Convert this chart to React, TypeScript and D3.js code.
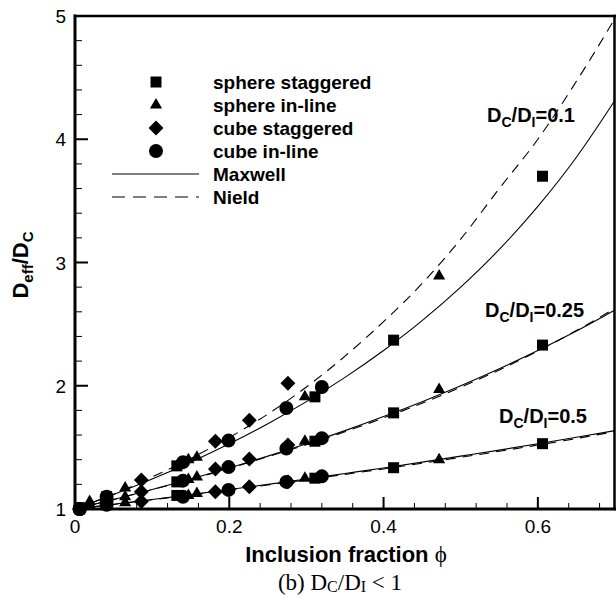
import React from 'react';
import * as d3 from 'd3';

// ---- data ----
const xMajorTicks = [0, 0.2, 0.4, 0.6];
const xTickLabels = ['0', '0.2', '0.4', '0.6'];
const yMajorTicks = [1, 2, 3, 4, 5];
const yTickLabels = ['1', '2', '3', '4', '5'];

const phiGrid = [0, 0.05, 0.1, 0.15, 0.2, 0.25, 0.3, 0.35, 0.4, 0.45, 0.5, 0.55, 0.6, 0.65, 0.7];
// Maxwell (solid) and Nield (dashed) curves for Dc/Di = 0.1, 0.25, 0.5
const maxwell01 = [1, 1.117, 1.243, 1.38, 1.529, 1.692, 1.871, 2.068, 2.286, 2.528, 2.8, 3.106, 3.455, 3.854, 4.316];
const nield01 = [1, 1.12, 1.26, 1.41, 1.58, 1.77, 1.99, 2.24, 2.52, 2.83, 3.19, 3.6, 4.0, 4.47, 4.98];
const maxwell025 = [1, 1.077, 1.158, 1.243, 1.333, 1.429, 1.529, 1.636, 1.75, 1.871, 2.0, 2.138, 2.286, 2.444, 2.615];
const nield025 = [1, 1.077, 1.157, 1.241, 1.33, 1.424, 1.522, 1.627, 1.739, 1.858, 1.988, 2.128, 2.282, 2.448, 2.628];
const maxwell05 = [1, 1.038, 1.077, 1.117, 1.158, 1.2, 1.243, 1.288, 1.333, 1.38, 1.429, 1.478, 1.529, 1.582, 1.636];
const nield05 = [1, 1.037, 1.075, 1.114, 1.154, 1.195, 1.237, 1.281, 1.325, 1.371, 1.419, 1.468, 1.519, 1.572, 1.628];

// markers: [phi, Deff/Dc]
const sphereStaggered: [number, number][] = [
  [0.006, 1.01], [0.041, 1.1], [0.132, 1.35], [0.311, 1.91], [0.413, 2.37], [0.606, 3.7],
  [0.006, 1.005], [0.041, 1.07], [0.132, 1.22], [0.311, 1.55], [0.413, 1.78], [0.606, 2.33],
  [0.006, 1.0], [0.041, 1.035], [0.132, 1.11], [0.311, 1.25], [0.413, 1.335], [0.606, 1.53],
];
const sphereInline: [number, number][] = [
  [0.019, 1.06], [0.065, 1.17], [0.147, 1.4], [0.158, 1.42], [0.298, 1.91], [0.472, 2.89],
  [0.019, 1.04], [0.065, 1.1], [0.147, 1.24], [0.158, 1.26], [0.298, 1.55], [0.472, 1.97],
  [0.019, 1.02], [0.065, 1.05], [0.147, 1.11], [0.158, 1.125], [0.298, 1.25], [0.472, 1.4],
];
const cubeStaggered: [number, number][] = [
  [0.086, 1.235], [0.182, 1.55], [0.226, 1.72], [0.276, 2.02],
  [0.086, 1.14], [0.182, 1.325], [0.226, 1.405], [0.276, 1.52],
  [0.086, 1.06], [0.182, 1.14], [0.226, 1.18], [0.276, 1.22],
];
const cubeInline: [number, number][] = [
  [0.006, 1.0], [0.041, 1.1], [0.14, 1.38], [0.199, 1.555], [0.274, 1.82], [0.32, 1.99],
  [0.006, 1.0], [0.041, 1.07], [0.14, 1.23], [0.199, 1.34], [0.274, 1.49], [0.32, 1.575],
  [0.006, 1.0], [0.041, 1.035], [0.14, 1.1], [0.199, 1.155], [0.274, 1.22], [0.32, 1.265],
];

const legendLabels = ['sphere staggered', 'sphere in-line', 'cube staggered', 'cube in-line', 'Maxwell', 'Nield'];

const FONT = 'Liberation Sans, Arial, Helvetica, sans-serif';
const SERIF = 'Liberation Serif, Times New Roman, serif';

const L = 75, R = 615, T = 16, B = 509;

export default function App() {
  const x = d3.scaleLinear().domain([0, 0.7]).range([L, R]);
  const y = d3.scaleLinear().domain([1, 5]).range([B, T]);
  const line = d3.line<number>().x((_, i) => x(phiGrid[i])).y((d) => y(d)).curve(d3.curveMonotoneX);

  const sq = d3.symbol(d3.symbolSquare, 121)()!;
  const tri = d3.symbol(d3.symbolTriangle, 64)()!;
  const dia = d3.symbol(d3.symbolSquare, 112)()!;
  const circ = d3.symbol(d3.symbolCircle, 154)()!;

  const xMinor = d3.range(0, 0.7001, 0.04).filter((v) => !xMajorTicks.some((m) => Math.abs(m - v) < 1e-6));
  const yMinor = d3.range(1, 5.0001, 0.2).filter((v) => !yMajorTicks.some((m) => Math.abs(m - v) < 1e-6));

  const solid = [maxwell01, maxwell025, maxwell05];
  const dashed = [nield01, nield025, nield05];
  const dash = '10,7';

  const legendMarkers = [sq, tri, dia, circ];
  const legY = [82, 105, 128, 151, 174, 197];

  const ann = (xx: number, yy: number, v: string) => (
    <text x={xx} y={yy}>D<tspan dy={5} fontSize={14}>C</tspan><tspan dy={-5}>/D</tspan><tspan dy={5} fontSize={14}>I</tspan><tspan dy={-5}>={v}</tspan></text>
  );

  return (
    <svg width={616} height={598} style={{ position: 'absolute', left: 0, top: 0, background: '#fff' }} fontFamily={FONT}>
      <rect x={0} y={0} width={616} height={598} fill="#fff" />
      {/* curves */}
      <g fill="none" stroke="#000" strokeWidth={1.1}>
        {solid.map((s, i) => <path key={'s' + i} d={line(s)!} />)}
        {dashed.map((s, i) => <path key={'d' + i} d={line(s)!} strokeDasharray={dash} />)}
      </g>
      {/* ticks */}
      <g stroke="#000">
        {xMajorTicks.map((t) => <line key={'xm' + t} x1={x(t)} x2={x(t)} y1={B} y2={B - 12} strokeWidth={2} />)}
        {xMinor.map((t) => <line key={'xn' + t} x1={x(t)} x2={x(t)} y1={B} y2={B - 6} strokeWidth={1} />)}
        {yMajorTicks.map((t) => <line key={'ym' + t} x1={L} x2={L + 13} y1={y(t)} y2={y(t)} strokeWidth={2} />)}
        {yMinor.map((t) => <line key={'yn' + t} x1={L} x2={L + 7} y1={y(t)} y2={y(t)} strokeWidth={1} />)}
      </g>
      {/* frame */}
      <g stroke="#000" strokeLinecap="square">
        <line x1={L} x2={R} y1={T} y2={T} strokeWidth={2.5} />
        <line x1={L} x2={R} y1={B} y2={B} strokeWidth={3} />
        <line x1={L} x2={L} y1={T} y2={B} strokeWidth={3} />
        <line x1={R - 0.5} x2={R - 0.5} y1={T} y2={B} strokeWidth={2.5} />
      </g>
      {/* markers */}
      <g fill="#000">
        {sphereStaggered.map((d, i) => <path key={'ss' + i} d={sq} transform={`translate(${x(d[0])},${y(d[1])})`} />)}
        {sphereInline.map((d, i) => <path key={'si' + i} d={tri} transform={`translate(${x(d[0])},${y(d[1])})`} />)}
        {cubeStaggered.map((d, i) => <path key={'cs' + i} d={dia} transform={`translate(${x(d[0])},${y(d[1])}) rotate(45)`} />)}
        {cubeInline.map((d, i) => <path key={'ci' + i} d={circ} transform={`translate(${x(d[0])},${y(d[1])})`} />)}
      </g>
      {/* tick labels */}
      <g fontSize={19} fill="#000">
        {xMajorTicks.map((t, i) => (
          <text key={'xl' + t} x={x(t)} y={533} textAnchor="middle">{xTickLabels[i]}</text>
        ))}
        {yMajorTicks.map((t, i) => (
          <text key={'yl' + t} x={66} y={y(t) + 7} textAnchor="end">{yTickLabels[i]}</text>
        ))}
      </g>
      {/* legend */}
      <g fill="#000" fontSize={19} fontWeight="bold">
        {legendMarkers.map((m, i) => (
          <path key={'lm' + i} d={m} transform={`translate(156,${legY[i]})${i === 2 ? ' rotate(45)' : ''}`} />
        ))}
        <line x1={112} x2={199} y1={legY[4]} y2={legY[4]} stroke="#000" strokeWidth={1} />
        <line x1={112} x2={199} y1={legY[5]} y2={legY[5]} stroke="#000" strokeWidth={1} strokeDasharray="13,8" />
        {legendLabels.map((l, i) => (
          <text key={'lt' + i} x={213} y={legY[i] + 7}>{l}</text>
        ))}
      </g>
      {/* annotations */}
      <g fill="#000" fontSize={20} fontWeight="bold">
        {ann(487, 122, '0.1')}
        {ann(485, 317, '0.25')}
        {ann(499, 423, '0.5')}
      </g>
      {/* axis titles */}
      <text x={346} y={562} textAnchor="middle" fontSize={22} fontWeight="bold" fill="#000">
        Inclusion fraction <tspan fontFamily={SERIF} fontWeight="normal" fontSize={23}>ϕ</tspan>
      </text>
      <text transform="translate(28,265) rotate(-90)" textAnchor="middle" fontSize={22} fontWeight="bold" fill="#000">
        D<tspan dy={5} fontSize={15}>eff</tspan><tspan dy={-5}>/D</tspan><tspan dy={5} fontSize={15}>C</tspan>
      </text>
      <text x={340} y={590} textAnchor="middle" fontFamily={SERIF} fontSize={23} fill="#000">
        (b) D<tspan dy={2} fontSize={16}>C</tspan><tspan dy={-2}>/D</tspan><tspan dy={2} fontSize={16}>I</tspan><tspan dy={-2}> &lt; 1</tspan>
      </text>
    </svg>
  );
}
